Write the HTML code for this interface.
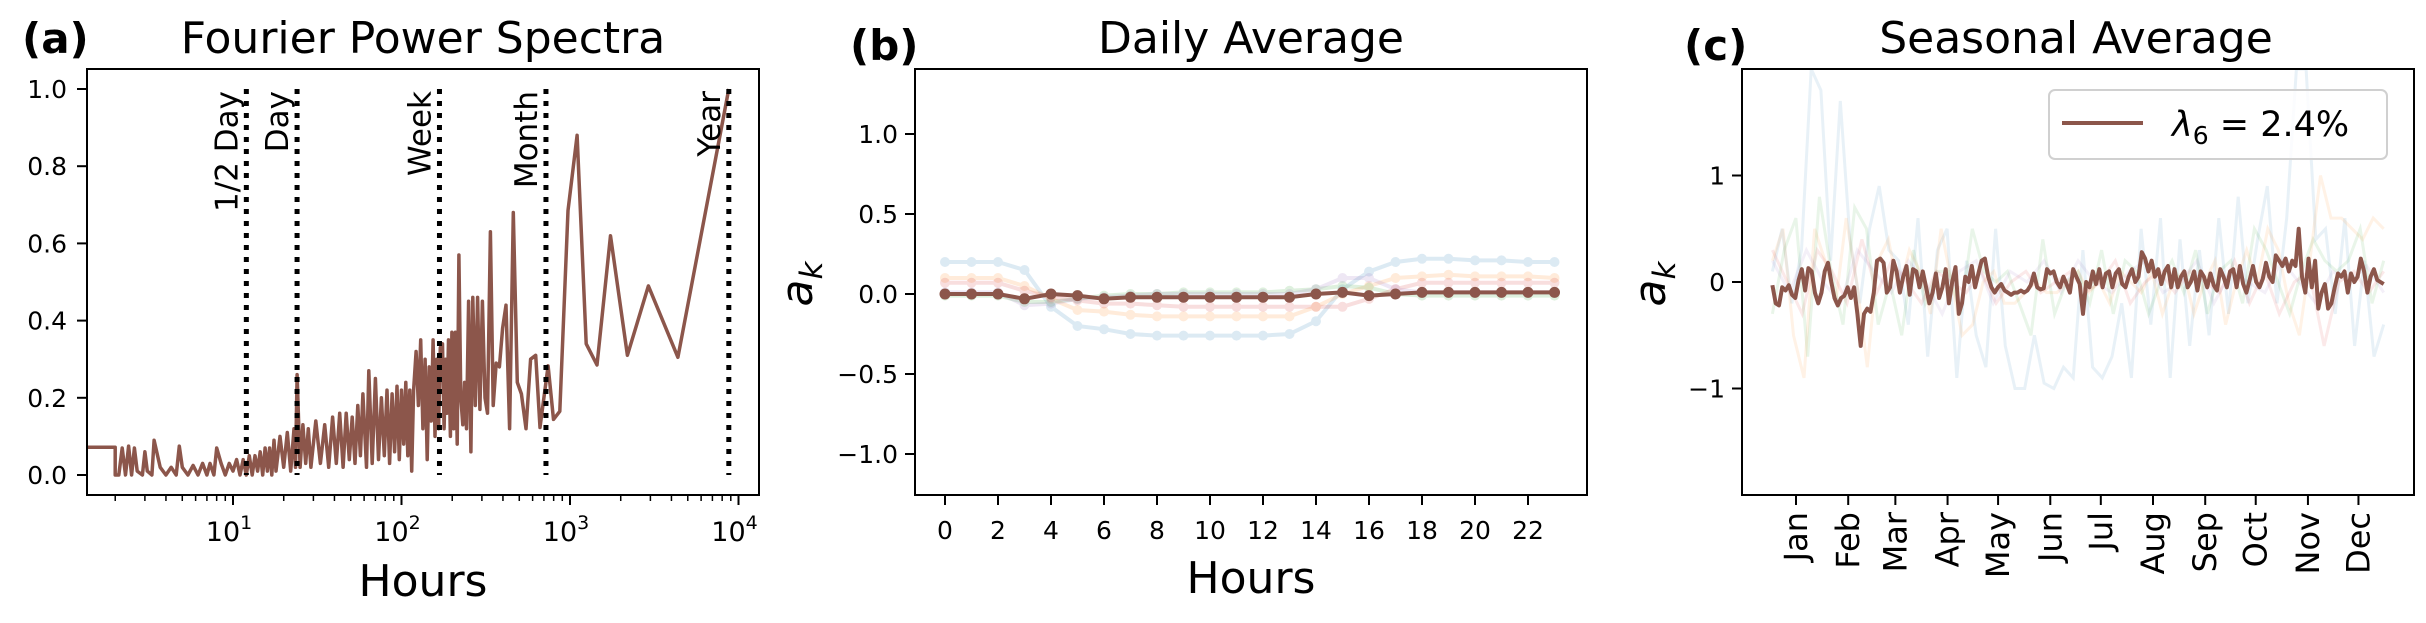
<!DOCTYPE html>
<html><head><meta charset="utf-8">
<style>
html,body{margin:0;padding:0;background:#fff;}
svg{display:block;font-family:"DejaVu Sans","Liberation Sans",sans-serif;}
</style></head>
<body>
<svg id="fig" xmlns="http://www.w3.org/2000/svg" width="2426" height="623" viewBox="0 0 2426 623">
<rect width="2426" height="623" fill="#fff"/>
<g id="pa"></g>
<g id="pb"></g>
<g id="pc"></g>
</svg>
<script>
// ---------- Panel (a) data ----------
const specPeriods = [1.36,2.0,2.0,2.1,2.2,2.3,2.4,2.5,2.6,2.7,2.9,3.0,3.1,3.3,3.4,3.7,4.0,4.3,4.6,4.8,5.0,5.4,5.8,6.2,6.6,7.0,7.3,7.7,8.0,8.5,9.0,9.5,10,10.5,11,11.5,12,12.5,13,13.5,14,14.5,15,15.5,16,16.5,17,17.5,18,19,20,21,22,23,23.5,24,25,26,27,28,29,31,33,35,37,39,41,43,45,47,49,51,53,55,57,59,62,64,67,70,73,76,79,82,85,88,91,94,97,100,103,106,109,112,115,118,122,126,130,134,138,142,146,150,154,158,162,166,170,175,179,183,186,190,195,199,204,209,214,219,225,231,237,243,250,258,265,274,283,292,302,313,324,337,350,365,381,398,417,438,461,487,515,548,584,626,664,741,798,870,973,1102,1247,1446,1740,2190,2918,4370,8760];
const specValues = [0.072,0.072,0.0,0.0,0.07,0.0,0.075,0.0,0.07,0.01,0.0,0.06,0.01,0.0,0.09,0.02,0.0,0.02,0.0,0.075,0.02,0.0,0.025,0.0,0.03,0.0,0.03,0.0,0.07,0.03,0.0,0.03,0.01,0.04,0.0,0.04,0.0,0.05,0.0,0.05,0.01,0.06,0.0,0.07,0.01,0.07,0.0,0.09,0.01,0.1,0.02,0.11,0.01,0.12,0.02,0.26,0.02,0.13,0.03,0.12,0.02,0.14,0.03,0.13,0.02,0.15,0.03,0.16,0.02,0.16,0.04,0.15,0.03,0.18,0.05,0.21,0.02,0.27,0.03,0.25,0.04,0.2,0.05,0.22,0.03,0.21,0.06,0.23,0.04,0.22,0.08,0.24,0.05,0.22,0.01,0.22,0.32,0.18,0.35,0.12,0.3,0.04,0.28,0.14,0.35,0.1,0.3,0.12,0.33,0.34,0.12,0.3,0.16,0.35,0.1,0.37,0.12,0.37,0.08,0.57,0.2,0.13,0.24,0.12,0.45,0.06,0.46,0.18,0.46,0.17,0.45,0.2,0.16,0.63,0.18,0.29,0.28,0.38,0.44,0.12,0.68,0.24,0.21,0.12,0.3,0.31,0.123,0.283,0.144,0.165,0.685,0.88,0.34,0.285,0.62,0.31,0.49,0.305,1.0];
const specMarkers = [12,24,168,720,8760];
const specMarkerLabels = ["1/2 Day","Day","Week","Month","Year"];
const aYTicks = [0.0,0.2,0.4,0.6,0.8,1.0];
const aXDecades = [1,2,3,4];

// ---------- Panel (b) data ----------
const hours = [0,1,2,3,4,5,6,7,8,9,10,11,12,13,14,15,16,17,18,19,20,21,22,23];
const dailyMain = [0.0,0.0,0.0,-0.03,0.0,-0.01,-0.03,-0.02,-0.02,-0.02,-0.02,-0.02,-0.02,-0.02,0.0,0.01,-0.01,0.0,0.01,0.01,0.01,0.01,0.01,0.01];
const dailyBlue = [0.2,0.2,0.2,0.15,-0.08,-0.2,-0.22,-0.25,-0.26,-0.26,-0.26,-0.26,-0.26,-0.25,-0.17,0.03,0.14,0.2,0.22,0.22,0.21,0.21,0.2,0.2];
const dailyOrange = [0.1,0.1,0.1,0.05,-0.03,-0.1,-0.11,-0.13,-0.14,-0.14,-0.14,-0.14,-0.14,-0.14,-0.08,0.0,0.05,0.1,0.11,0.12,0.11,0.11,0.11,0.1];
const dailyRed = [0.07,0.07,0.07,0.02,-0.02,-0.04,-0.06,-0.06,-0.07,-0.08,-0.08,-0.08,-0.08,-0.08,-0.08,-0.08,-0.03,0.03,0.07,0.07,0.07,0.07,0.07,0.07];
const dailyGreen = [-0.01,-0.01,-0.01,-0.05,-0.05,-0.03,-0.01,0.0,0.0,0.01,0.01,0.01,0.01,0.02,0.03,0.05,0.04,0.0,-0.01,-0.01,-0.01,-0.01,-0.01,-0.01];
const dailyPurple = [0.01,0.01,0.01,-0.07,-0.06,-0.03,-0.02,-0.01,0,0,0,0,0,0,0.03,0.1,0.1,0.03,0.01,0.01,0.01,0.01,0.01,0.01];
const bXTicks = [0,2,4,6,8,10,12,14,16,18,20,22];
const bYTicks = [-1.0,-0.5,0.0,0.5,1.0];

// ---------- Panel (c) data ----------
const seasonStartDay = -14, seasonEndDay = 349;
const seasonMain = [-0.03,-0.2,-0.22,-0.05,-0.08,-0.03,-0.12,-0.15,0.02,0.12,-0.08,0.13,0.1,-0.1,-0.2,-0.1,0.1,0.18,0.0,-0.15,-0.22,-0.15,-0.13,-0.05,-0.15,-0.05,-0.3,-0.6,-0.3,-0.25,-0.28,-0.1,0.2,0.22,0.18,-0.1,-0.05,0.2,0.1,-0.1,0.05,0.15,-0.12,0.12,0.1,-0.05,0.1,-0.05,-0.2,-0.1,0.08,-0.15,-0.05,0.12,-0.2,0.0,0.14,-0.3,-0.2,0.05,0.0,0.15,-0.05,0.08,0.2,0.22,0.05,-0.05,-0.1,-0.05,-0.02,-0.08,-0.1,-0.12,-0.1,-0.1,-0.08,-0.1,-0.08,-0.03,0.08,-0.05,-0.07,-0.06,0.12,0.08,0.1,0.0,-0.05,0.05,-0.02,-0.1,0.12,0.05,-0.02,-0.3,0.0,-0.05,0.1,-0.02,0.12,-0.05,0.08,0.1,-0.05,0.08,0.12,-0.02,-0.05,0.05,0.12,0.0,0.05,0.28,0.22,0.1,0.2,0.05,0.12,-0.02,0.1,0.15,-0.05,0.12,-0.05,0.05,0.1,-0.05,0.0,0.1,-0.08,0.1,0.05,-0.05,0.08,-0.03,-0.08,0.12,0.05,-0.05,0.1,0.12,-0.05,0.15,-0.02,-0.1,0.02,0.15,0.0,-0.05,0.03,0.18,0.05,0.0,0.25,0.2,0.15,0.22,0.1,0.2,0.15,0.5,0.05,-0.1,0.22,-0.05,0.2,-0.25,-0.1,-0.02,-0.25,-0.2,-0.05,0.08,0.05,0.1,-0.1,0.08,0.0,0.05,0.22,0.1,-0.1,0.05,0.12,0.02,0.0,-0.02];
const seasonBlue = [0.1,0.5,-0.2,0.3,2.0,1.8,0.2,1.7,0.4,-0.2,0.5,0.9,0.3,0.2,-0.4,0.6,-0.7,0.3,0.5,-0.9,0.2,-0.5,-0.8,0.5,-0.6,-1.0,-1.0,-0.5,-0.95,-1.0,-0.8,-0.9,0.3,-0.8,-0.9,-0.7,-0.2,-0.9,0.5,-0.4,0.6,-0.9,0.4,-0.6,0.3,-0.5,0.6,-0.3,0.8,-0.2,0.4,0.9,-0.2,0.6,2.0,2.0,0.4,0.5,-0.3,0.6,-0.6,0.2,-0.7,-0.4];
const seasonOrange = [0.2,0.5,-0.5,-0.9,0.5,0.2,-0.2,0.6,0.0,-0.8,0.2,0.4,-0.1,0.3,0.1,-0.3,0.5,0.0,-0.5,-0.4,0.0,0.1,-0.2,-0.2,-0.1,0.0,-0.1,-0.1,0.0,0.1,-0.1,0.0,-0.2,0.1,0.0,-0.1,0.1,-0.3,0.0,0.1,-0.3,0.0,0.2,-0.4,0.0,0.3,0.0,0.5,0.3,-0.2,-0.5,0.2,1.0,0.6,0.6,0.5,0.4,0.6,0.5];
const seasonGreen = [-0.3,0.3,0.6,-0.7,0.8,0.1,-0.4,0.7,0.5,-0.4,0.0,-0.5,0.3,-0.2,0.1,0.1,-0.3,0.5,0.1,0.0,0.1,-0.2,-0.5,0.4,-0.3,0.0,0.1,-0.2,0.3,-0.3,0.2,0.1,-0.3,0.0,0.2,-0.1,0.3,-0.3,0.1,0.2,-0.2,0.5,0.3,0.0,-0.3,0.1,0.4,0.2,0.1,0.2,0.5,-0.2,0.2];
const seasonRed = [0.3,0.0,-0.3,0.3,0.1,-0.2,0.4,-0.1,0.2,0.0,-0.2,0.1,0.0,-0.1,0.1,-0.2,0.0,0.1,-0.1,0.0,0.1,-0.1,0.0,0.2,-0.2,0.0,0.1,-0.1,0.1,0.0,-0.1,0.2,-0.2,0.1,-0.3,0.0,0.1,-0.6,0.0,0.1,-0.1,0.1];
const seasonPurple = [0.2,-0.1,0.3,0.0,-0.2,0.3,0.1,-0.1,0.2,0.0,-0.3,0.1,0.2,-0.2,0.1,0.0,0.2,-0.1,0.2,0.0,-0.1,0.1,0.2,-0.1,0.0,0.2,-0.2,0.1,0.0,-0.1,0.2,0.0,-0.2,0.1,0.0,0.15,-0.1];
const monthNames = ["Jan","Feb","Mar","Apr","May","Jun","Jul","Aug","Sep","Oct","Nov","Dec"];
const monthStartDays = [0,31,59,90,120,151,181,212,243,273,304,334];
const cYTicks = [-1,0,1];

const NS = "http://www.w3.org/2000/svg";
function mk(parent, tag, attrs, text){
  const e = document.createElementNS(NS, tag);
  for (const k in attrs) e.setAttribute(k, attrs[k]);
  if (text !== undefined) e.textContent = text;
  parent.appendChild(e);
  return e;
}
const BROWN="#8c564b";

// ===== Panel A =====
(function(){
  const g = document.getElementById('pa');
  const L=87,R=759,T=69,B=495;
  const xs = p => 64.5 + 168.5*Math.log10(p);
  const ys = v => 475 - 386*v;
  let pts = specPeriods.map((p,i)=>xs(p).toFixed(1)+","+ys(specValues[i]).toFixed(1)).join(" ");
  const cp = mk(g,'clipPath',{id:'clipA'}); mk(cp,'rect',{x:L,y:T,width:R-L,height:B-T});
  const line = mk(g,'polyline',{points:pts,fill:'none',stroke:BROWN,'stroke-width':3.5,'stroke-linejoin':'round','clip-path':'url(#clipA)'});
  
  
  specMarkers.forEach((p,i)=>{
    const x = xs(p);
    const vl = mk(g,'line',{x1:x,x2:x,y1:ys(1.0),y2:ys(0),stroke:'#000','stroke-width':5,'stroke-dasharray':'5 7'});
    
    
    const t = mk(g,'text',{x:0,y:0,transform:`translate(${x-9},${ys(1.0)+2}) rotate(-90)`,'text-anchor':'end','font-size':31,fill:'#000'},specMarkerLabels[i]);
    
    
  });
  const fr = mk(g,'rect',{x:L,y:T,width:R-L,height:B-T,fill:'none',stroke:'#000','stroke-width':2});
  
  
  aYTicks.forEach(v=>{
    const y = ys(v);
    mk(g,'line',{x1:L-10,x2:L,y1:y,y2:y,stroke:'#000','stroke-width':2});
    const t = mk(g,'text',{x:L-20,y:y+9,'text-anchor':'end','font-size':25},v.toFixed(1));
    
    
  });
  for (let d=0; d<=4; d++){
    for (let m=1; m<=9; m++){
      const x = xs(m*Math.pow(10,d));
      if (x<L||x>R) continue;
      const major = (m===1);
      mk(g,'line',{x1:x,x2:x,y1:B,y2:B+(major?10:6),stroke:'#000','stroke-width':major?2:1.5});
    }
  }
  aXDecades.forEach(d=>{
    const x = xs(Math.pow(10,d));
    const t = mk(g,'text',{x:x-4,y:541,'text-anchor':'middle','font-size':27});
    
    
    mk(t,'tspan',{},'10');
    mk(t,'tspan',{dy:-12,'font-size':19},String(d));
  });
  const xl = mk(g,'text',{x:423,y:596,'text-anchor':'middle','font-size':44},'Hours');
   
  const tt = mk(g,'text',{x:423,y:53,'text-anchor':'middle','font-size':44},'Fourier Power Spectra');
   
  const pl = mk(g,'text',{x:22,y:53,'font-size':42,'font-weight':'bold'},'(a)');
   
})();

// ===== Panel B =====
(function(){
  const g = document.getElementById('pb');
  const L=915,R=1587,T=69,B=495;
  const xs = h => 945 + 26.5*h;
  const ys = v => 294 - 160*v;
  const series = [[dailyBlue,'#1f77b4'],[dailyOrange,'#ff7f0e'],[dailyGreen,'#2ca02c'],[dailyRed,'#d62728'],[dailyPurple,'#9467bd']];
  series.forEach(([arr,col],si)=>{
    const sg = mk(g,'g',{opacity:0.15});
    
    
    mk(sg,'polyline',{points:hours.map((h,i)=>xs(h)+","+ys(arr[i])).join(" "),fill:'none',stroke:col,'stroke-width':4});
    hours.forEach((h,i)=>mk(sg,'circle',{cx:xs(h),cy:ys(arr[i]),r:5,fill:col}));
  });
  const ml = mk(g,'polyline',{points:hours.map((h,i)=>xs(h)+","+ys(dailyMain[i])).join(" "),fill:'none',stroke:BROWN,'stroke-width':4});
   
  hours.forEach((h,i)=>{
    const c = mk(g,'circle',{cx:xs(h),cy:ys(dailyMain[i]),r:5.5,fill:BROWN});
     
  });
  const fr = mk(g,'rect',{x:L,y:T,width:R-L,height:B-T,fill:'none',stroke:'#000','stroke-width':2});
   
  bYTicks.forEach(v=>{
    const y = ys(v);
    mk(g,'line',{x1:L-10,x2:L,y1:y,y2:y,stroke:'#000','stroke-width':2});
    const t = mk(g,'text',{x:L-17,y:y+9,'text-anchor':'end','font-size':25},(v<0?'\u2212':'')+Math.abs(v).toFixed(1));
     
  });
  bXTicks.forEach(h=>{
    const x = xs(h);
    mk(g,'line',{x1:x,x2:x,y1:B,y2:B+10,stroke:'#000','stroke-width':2});
    const t = mk(g,'text',{x:x,y:539,'text-anchor':'middle','font-size':25},String(h));
     
  });
  const yl = mk(g,'text',{x:0,y:0,transform:'translate(812,284) rotate(-90)','text-anchor':'middle','font-size':44,'font-style':'italic'});
   
  mk(yl,'tspan',{},'a'); mk(yl,'tspan',{dy:10,'font-size':31},'k');
  const xl = mk(g,'text',{x:1251,y:593,'text-anchor':'middle','font-size':44},'Hours');
   
  const tt = mk(g,'text',{x:1251,y:53,'text-anchor':'middle','font-size':44},'Daily Average');
   
  const pl = mk(g,'text',{x:850,y:60,'font-size':42,'font-weight':'bold'},'(b)');
   
})();

// ===== Panel C =====
(function(){
  const g = document.getElementById('pc');
  const L=1742,R=2414,T=69,B=495;
  const xs = d => 1796 + 1.684*d;
  const ys = v => 282 - 106.5*v;
  const cp = mk(g,'clipPath',{id:'clipC'}); mk(cp,'rect',{x:L,y:T,width:R-L,height:B-T});
  const dayOf = (i,n) => seasonStartDay + i*(seasonEndDay-seasonStartDay)/(n-1);
  const series = [[seasonBlue,'#1f77b4'],[seasonOrange,'#ff7f0e'],[seasonGreen,'#2ca02c'],[seasonRed,'#d62728'],[seasonPurple,'#9467bd']];
  series.forEach(([arr,col],si)=>{
    const pl = mk(g,'polyline',{points:arr.map((v,i)=>xs(dayOf(i,arr.length)).toFixed(1)+","+ys(v).toFixed(1)).join(" "),fill:'none',stroke:col,'stroke-width':3,opacity:0.1,'clip-path':'url(#clipC)'});
    
    
  });
  const ml = mk(g,'polyline',{points:seasonMain.map((v,i)=>xs(dayOf(i,seasonMain.length)).toFixed(1)+","+ys(v).toFixed(1)).join(" "),fill:'none',stroke:BROWN,'stroke-width':4,'stroke-linejoin':'round','clip-path':'url(#clipC)'});
   
  const fr = mk(g,'rect',{x:L,y:T,width:R-L,height:B-T,fill:'none',stroke:'#000','stroke-width':2});
   
  cYTicks.forEach(v=>{
    const y = ys(v);
    mk(g,'line',{x1:L-10,x2:L,y1:y,y2:y,stroke:'#000','stroke-width':2});
    const t = mk(g,'text',{x:L-17,y:y+9,'text-anchor':'end','font-size':25},(v<0?'\u2212':'')+Math.abs(v));
     
  });
  monthNames.forEach((m,i)=>{
    const x = xs(monthStartDays[i]);
    mk(g,'line',{x1:x,x2:x,y1:B,y2:B+10,stroke:'#000','stroke-width':2});
    const t = mk(g,'text',{x:0,y:0,transform:`translate(${x+11},${B+17}) rotate(-90)`,'text-anchor':'end','font-size':32},m);
     
  });
  const yl = mk(g,'text',{x:0,y:0,transform:'translate(1665,284) rotate(-90)','text-anchor':'middle','font-size':44,'font-style':'italic'});
   
  mk(yl,'tspan',{},'a'); mk(yl,'tspan',{dy:10,'font-size':31},'k');
  const lg = mk(g,'g',{});
   
  mk(lg,'rect',{x:2049,y:90,width:338,height:69,rx:6,fill:'#fff','fill-opacity':0.8,stroke:'#d0d0d0','stroke-width':2});
  mk(lg,'line',{x1:2062,x2:2143,y1:123,y2:123,stroke:BROWN,'stroke-width':4});
  const lt = mk(lg,'text',{x:2172,y:136,'font-size':35});
   
  mk(lt,'tspan',{'font-style':'italic'},'\u03BB');
  mk(lt,'tspan',{dy:8,'font-size':25},'6');
  mk(lt,'tspan',{dy:-8},' = 2.4%');
  const tt = mk(g,'text',{x:2076,y:53,'text-anchor':'middle','font-size':44},'Seasonal Average');
   
  const pl = mk(g,'text',{x:1684,y:60,'font-size':42,'font-weight':'bold'},'(c)');
   
})();
</script>
</body></html>
